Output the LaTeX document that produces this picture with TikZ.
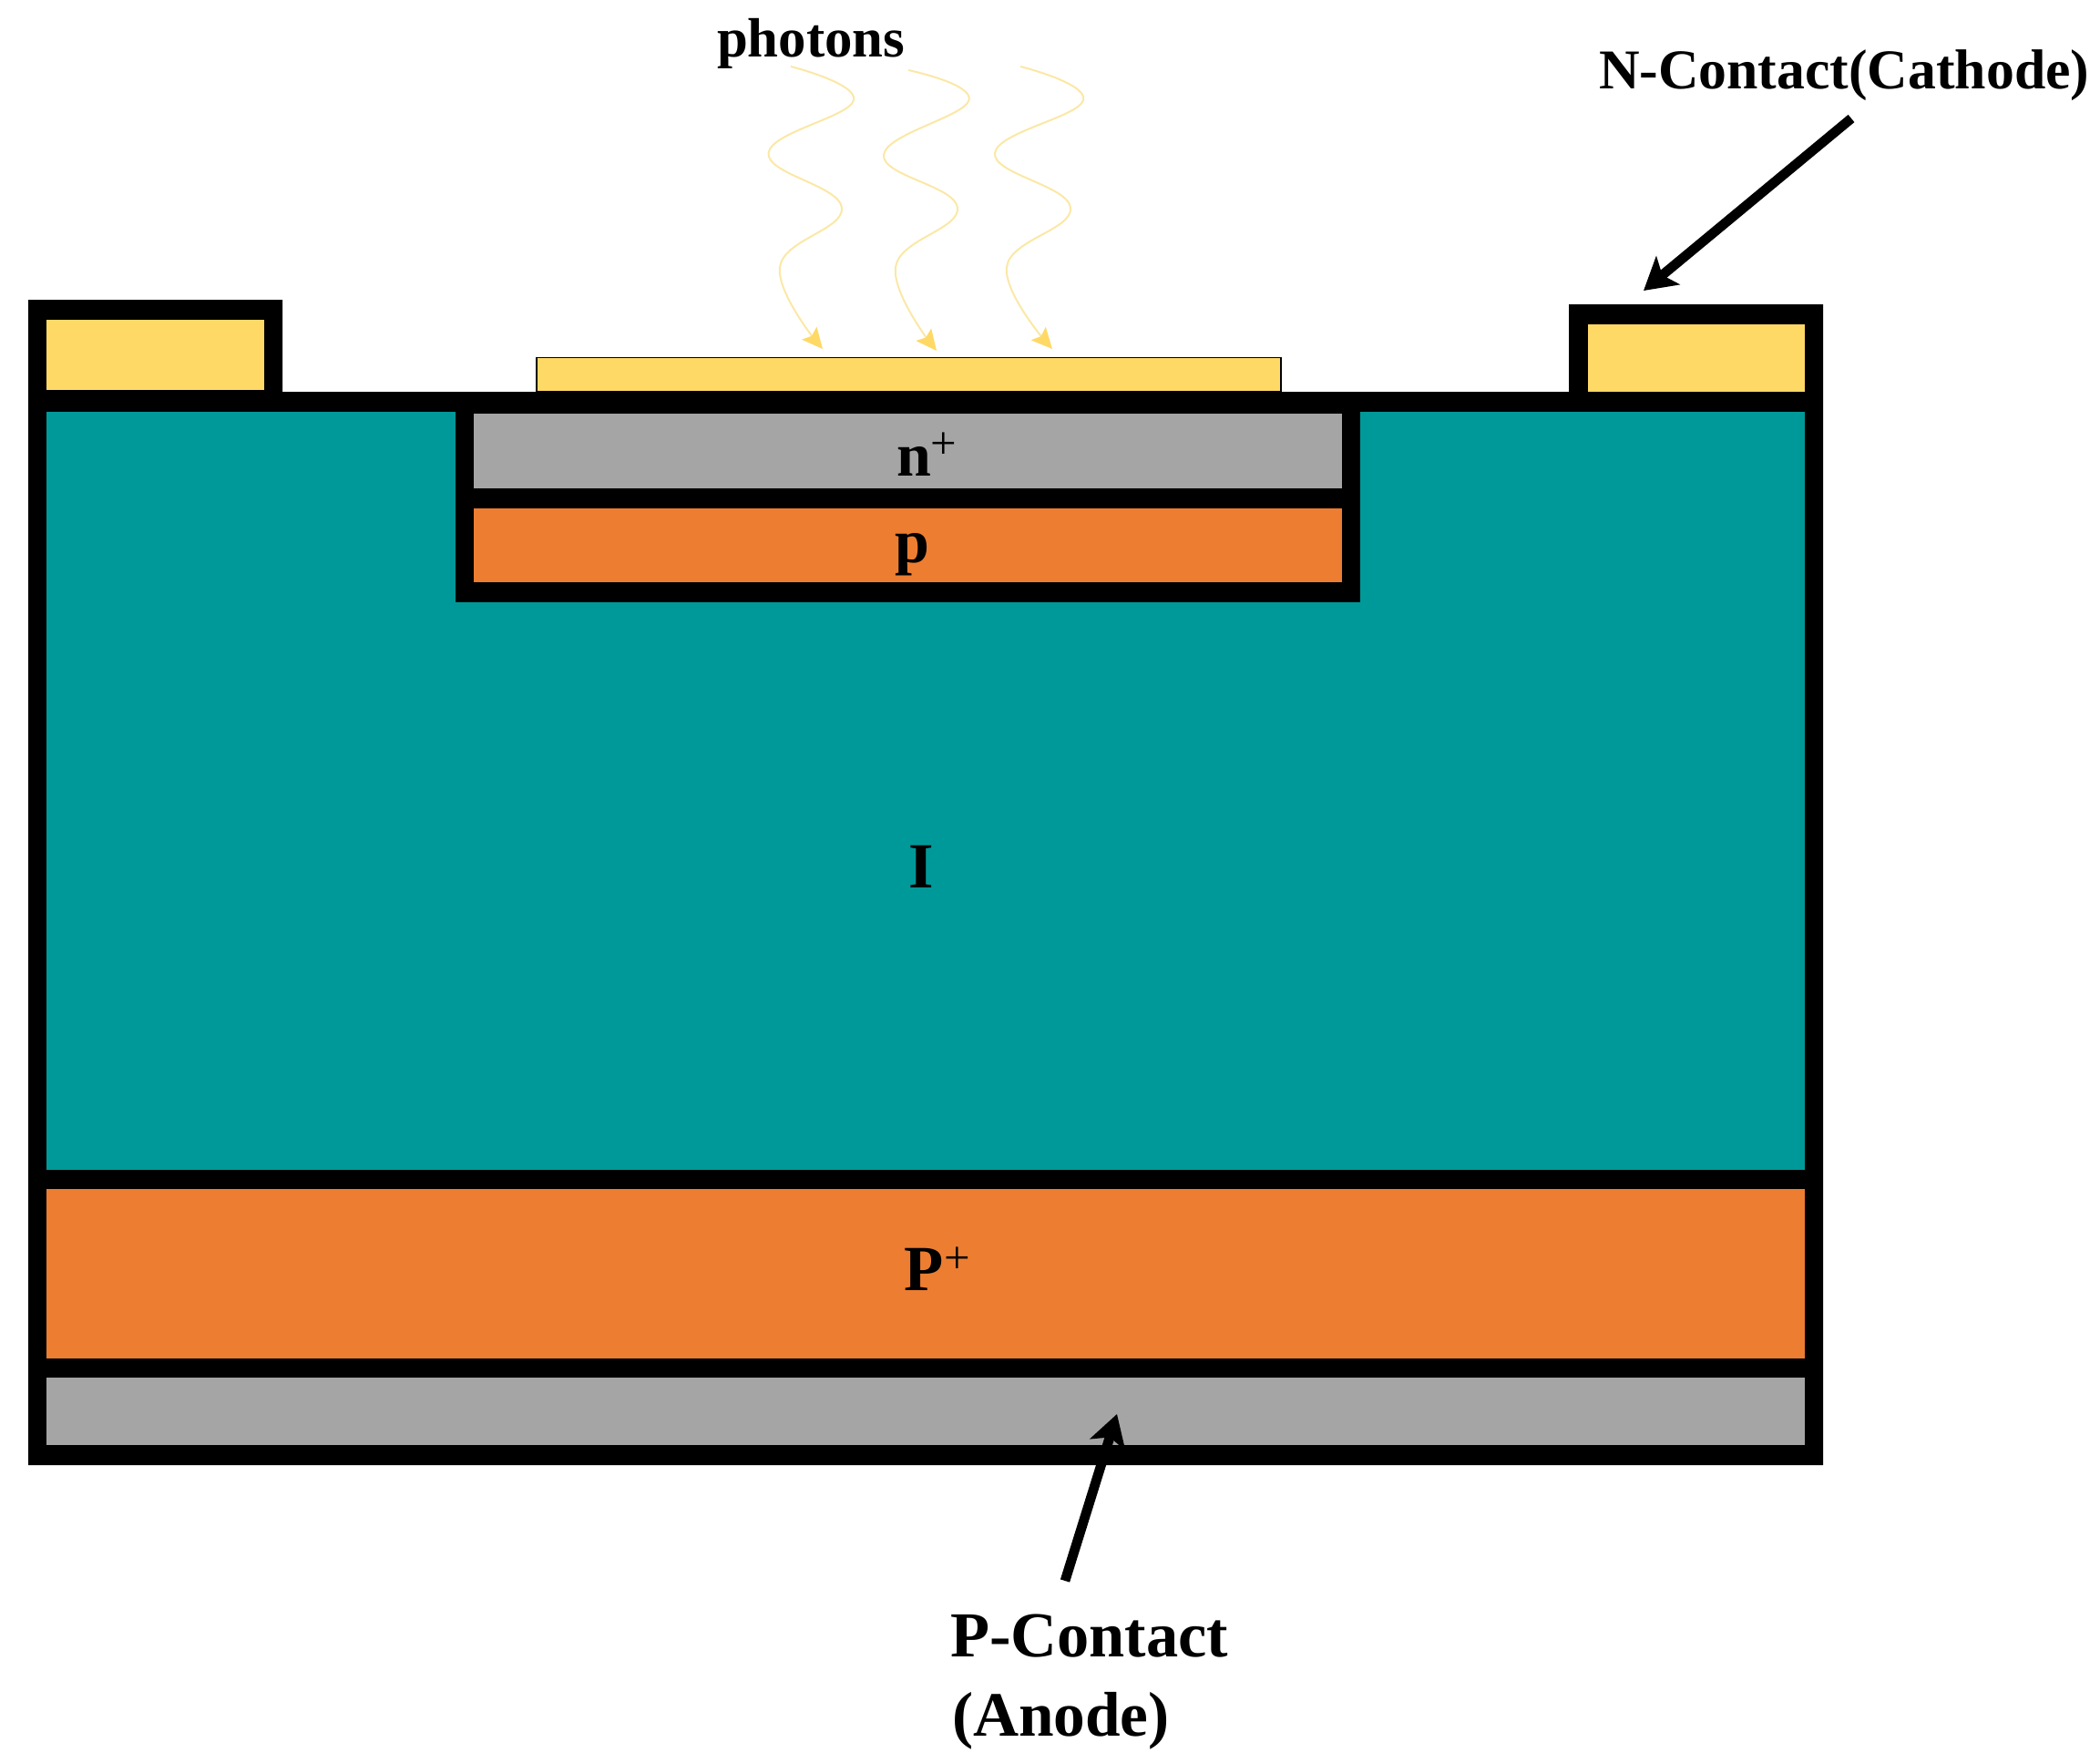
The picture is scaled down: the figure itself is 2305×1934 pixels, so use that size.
\documentclass[tikz,border=0pt]{standalone}
\usepackage{fontspec}
\setmainfont{Liberation Serif}
\usetikzlibrary{arrows.meta}
\definecolor{tealfill}{HTML}{009999}
\definecolor{orangefill}{HTML}{ED7D31}
\definecolor{grayfill}{HTML}{A5A5A5}
\definecolor{yellowfill}{HTML}{FFD966}
\definecolor{photonline}{HTML}{FBE8A6}
\newcommand{\thinplus}[1]{{\fontsize{38}{38}\selectfont\mdseries\raisebox{#1}{+}}}
\tikzset{
  layer/.style={fill=#1,draw=none},
  lbl/.style={anchor=base west,inner sep=0pt,outer sep=0pt,font=\fontsize{#1}{#1}\selectfont\bfseries,text=black},
  pointer/.style={line width=8pt,draw=black,-{Stealth[length=26pt,width=30pt,inset=6pt]}},
  photon/.style={line width=1.5pt,draw=photonline,-{Stealth[length=17pt,width=16pt,inset=3pt,color=yellowfill]}}
}
\begin{document}
\begin{tikzpicture}[x=0.75pt,y=-0.75pt]
\useasboundingbox (0,0) rectangle (2305,1934);
% black body
\fill[black] (31,329) -- (310,329) -- (310,430) -- (1722,430) -- (1722,334) -- (2001,334) -- (2001,1608) -- (31,1608) -- cycle;
% layers
\fill[layer=yellowfill] (51,351) rectangle (290,428);
\fill[layer=yellowfill] (1743,356) rectangle (1981,430);
\fill[layer=tealfill] (51,452) rectangle (1981,1284);
\fill[black] (500,440) rectangle (1493,661);
\fill[layer=grayfill] (520,454) rectangle (1473,536);
\fill[layer=orangefill] (520,558) rectangle (1473,639);
\fill[layer=orangefill] (51,1305) rectangle (1981,1491);
\fill[layer=grayfill] (51,1512) rectangle (1981,1586);
\draw[fill=yellowfill,draw=black,line width=1.4pt] (589,392.5) rectangle (1406,430);
% photons
\draw[photon] plot[smooth,tension=0.7] coordinates {(868,73) (937,110) (843.5,168) (924,228) (856,293) (903,383)};
\draw[photon] plot[smooth,tension=0.7] coordinates {(997,77) (1063.5,110) (970,170) (1051,228) (983,293) (1028,385)};
\draw[photon] plot[smooth,tension=0.7] coordinates {(1120,73) (1189,110) (1092,168) (1175,228) (1105,293) (1155,383)};
% labels
\node[lbl=45.6] (photons) at (787,63) {photons};
\node[lbl=46.3] (ncontact) at (1755,98) {N-Contact(Cathode)};
\node[lbl=52.8] (pcontact) at (1043,1818) {P-Contact};
\node[lbl=52] (anode) at (1045,1905) {(Anode)};
\node[lbl=51] (nplus) at (984,522) {n\thinplus{14pt}};
\node[lbl=51] (pinner) at (982,617) {p};
\node[lbl=53] (ilabel) at (997,974) {I};
\node[lbl=53] (pplus) at (992,1416) {P\kern1pt\thinplus{14pt}};
% arrows
\coordinate (ntail) at (2032,130);
\coordinate (ntip) at (1804,319);
\coordinate (ptail) at (1169,1735);
\coordinate (ptip) at (1226,1552);
\draw[pointer] (ntail) -- (ntip);
\draw[pointer] (ptail) -- (ptip);
\end{tikzpicture}
\end{document}
